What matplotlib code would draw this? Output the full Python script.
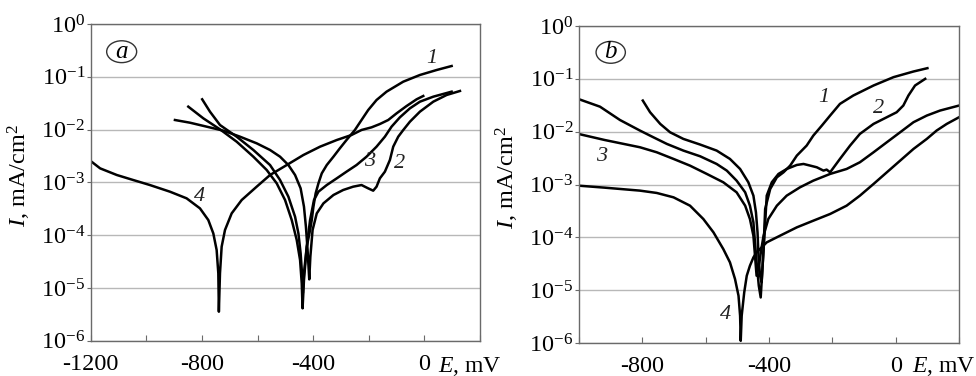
import numpy as np
import matplotlib
matplotlib.use('Agg')
import matplotlib.pyplot as plt
from matplotlib.patches import Ellipse
from matplotlib.ticker import NullLocator

plt.rcParams['font.family'] = ['Liberation Serif', 'DejaVu Serif']
plt.rcParams['mathtext.fontset'] = 'custom'
plt.rcParams['mathtext.rm'] = 'Liberation Serif'
plt.rcParams['mathtext.it'] = 'Liberation Serif:italic'
plt.rcParams['axes.unicode_minus'] = False

# ---- panel a : potential E (mV) and log10 of current density I (mA/cm2) ----
a1_E = [-799, -771, -735, -675, -615, -555, -519, -489, -465, -453, -445, -440, -437, -433, -423,
        -411, -405, -399, -391, -381, -369, -351, -327, -304, -280, -250, -226, -202, -172, -136,
        -76, -16, 44, 98]
a1_logI = [-1.427, -1.661, -1.914, -2.135, -2.387, -2.672, -2.956, -3.272, -3.651, -3.967, -4.345,
           -4.724, -5.10, -4.72, -4.219, -3.903, -3.714, -3.461, -3.209, -3.019, -2.83, -2.672,
           -2.514, -2.356, -2.198, -2.009, -1.819, -1.63, -1.44, -1.282, -1.093, -0.966, -0.872,
           -0.796]

a2_E = [-897, -843, -783, -723, -663, -603, -555, -519, -489, -465, -445, -433, -426, -420, -414,
        -410, -402, -387, -363, -327, -292, -256, -226, -202, -184, -172, -160, -142, -124, -112,
        -94, -76, -52, -16, 32, 80, 128]
a2_logI = [-1.819, -1.87, -1.945, -2.021, -2.135, -2.261, -2.387, -2.514, -2.672, -2.861, -3.114,
           -3.461, -3.84, -4.282, -4.838, -4.408, -3.903, -3.588, -3.398, -3.24, -3.145, -3.082,
           -3.051, -3.114, -3.158, -3.082, -2.924, -2.798, -2.577, -2.324, -2.135, -2.009, -1.851,
           -1.661, -1.472, -1.345, -1.269]

a3_E = [-849, -795, -735, -675, -615, -567, -531, -501, -477, -459, -447, -441, -438, -433, -423,
        -411, -397, -381, -351, -315, -280, -244, -208, -172, -142, -118, -88, -52, -16, 32, 98]
a3_logI = [-1.566, -1.787, -1.996, -2.23, -2.514, -2.766, -3.019, -3.335, -3.714, -4.093, -4.472,
           -4.914, -5.387, -4.851, -4.219, -3.714, -3.335, -3.177, -3.051, -2.924, -2.798, -2.672,
           -2.514, -2.324, -2.135, -1.945, -1.768, -1.598, -1.472, -1.377, -1.282]

a4_E = [-1200, -1166, -1106, -1047, -987, -915, -855, -807, -777, -759, -747, -741, -739, -735,
        -729, -717, -693, -657, -603, -555, -495, -435, -375, -315, -262, -226, -190, -160, -130,
        -100, -64, -28, -4]
a4_logI = [-2.596, -2.735, -2.861, -2.956, -3.051, -3.177, -3.303, -3.493, -3.714, -3.967, -4.282,
           -4.724, -5.451, -4.724, -4.219, -3.903, -3.588, -3.335, -3.082, -2.861, -2.672, -2.482,
           -2.324, -2.198, -2.103, -2.008, -1.958, -1.895, -1.819, -1.693, -1.554, -1.427, -1.364]

# ---- panel b ----
b1_E = [-798, -775, -743, -712, -670, -617, -565, -523, -491, -465, -449, -441, -436, -433, -428,
        -423, -417, -412, -396, -375, -354, -333, -312, -281, -260, -233, -207, -176, -134, -70,
        -7, 56, 100]
b1_logI = [-1.411, -1.632, -1.853, -2.011, -2.137, -2.244, -2.358, -2.516, -2.706, -2.958, -3.211,
           -3.527, -3.906, -4.348, -4.727, -4.85, -4.22, -3.464, -3.085, -2.864, -2.769, -2.642,
           -2.453, -2.263, -2.074, -1.884, -1.695, -1.474, -1.316, -1.126, -0.968, -0.861, -0.798]

b2_E = [-1001, -933, -870, -807, -765, -722, -670, -617, -565, -533, -502, -475, -460, -449, -444,
        -438, -432, -426, -420, -413, -407, -391, -370, -344, -312, -291, -270, -249, -228, -218,
        -207, -176, -144, -113, -70, -28, 3, 24, 40, 61, 93]
b2_logI = [-1.382, -1.527, -1.779, -1.979, -2.105, -2.232, -2.358, -2.466, -2.611, -2.737, -2.927,
           -3.148, -3.401, -3.716, -4.095, -4.538, -4.917, -5.138, -4.538, -3.843, -3.211, -2.958,
           -2.8, -2.706, -2.63, -2.611, -2.642, -2.674, -2.737, -2.718, -2.769, -2.516, -2.263,
           -2.042, -1.853, -1.726, -1.632, -1.505, -1.316, -1.126, -1.0]

b3_E = [-1000, -918, -807, -754, -701, -649, -596, -544, -502, -475, -460, -449, -444, -439, -430,
        -424, -417, -402, -375, -344, -302, -260, -207, -155, -113, -70, -28, 14, 56, 98, 140, 200]
b3_logI = [-2.044, -2.158, -2.295, -2.39, -2.516, -2.643, -2.8, -2.958, -3.148, -3.401, -3.653,
           -3.969, -4.348, -4.727, -4.474, -4.222, -3.969, -3.653, -3.401, -3.211, -3.053, -2.927,
           -2.8, -2.706, -2.579, -2.39, -2.2, -2.011, -1.821, -1.695, -1.6, -1.505]

b4_E = [-1000, -918, -807, -754, -701, -649, -607, -575, -544, -523, -507, -496, -491, -489, -486,
        -478, -470, -460, -449, -439, -407, -365, -312, -260, -207, -155, -113, -70, -28, 14, 56,
        98, 129, 161, 200]
b4_logI = [-3.022, -3.06, -3.116, -3.16, -3.243, -3.401, -3.653, -3.906, -4.222, -4.474, -4.79,
           -5.106, -5.485, -5.959, -5.485, -5.043, -4.727, -4.538, -4.38, -4.285, -4.095, -3.969,
           -3.811, -3.685, -3.558, -3.401, -3.211, -2.99, -2.769, -2.548, -2.327, -2.137, -1.979,
           -1.853, -1.726]

# curve number labels: (text, E, I)
a_labels = [('1', 26, 0.224), ('2', -88, 2.3e-3), ('3', -196, 2.45e-3), ('4', -807, 5.4e-4)]
b_labels = [('1', -228, 0.045), ('2', -55, 0.028), ('3', -929, 3.4e-3), ('4', -538, 3.5e-6)]

a_xticks = [-1200, -1000, -800, -600, -400, -200, 0, 200]
a_xticklabels = ['-1200', '', '-800', '', '-400', '', '0', '']
b_xticks = [-1000, -800, -600, -400, -200, 0, 200]
b_xticklabels = ['', '-800', '', '-400', '', '0', '']

fig = plt.figure(figsize=(9.76, 3.76), dpi=100)
ax_a = fig.add_axes([0.0929, 0.0939, 0.3989, 0.8423])
ax_b = fig.add_axes([0.593, 0.0878, 0.3897, 0.843])

frame = '#6a6a6a'
fs = 17.5


def setup(ax, xlim, xticks, xticklabels, tag, tagpos, ylab_x, elab_pos):
    ax.set_yscale('log')
    ax.set_ylim(1e-6, 1)
    ax.set_xlim(*xlim)
    ax.set_yticks([10.0 ** k for k in range(-6, 1)])
    ax.yaxis.set_minor_locator(NullLocator())
    ax.set_xticks(xticks)
    ax.set_xticklabels(xticklabels)
    ax.grid(axis='y', color='#b8b8b8', lw=1)
    ax.set_axisbelow(True)
    for s in ax.spines.values():
        s.set_color(frame)
        s.set_linewidth(1)
    ax.tick_params(axis='y', direction='out', length=3, color=frame, labelsize=fs, pad=1)
    ax.tick_params(axis='x', direction='in', length=4, color=frame, labelsize=fs, pad=9.5)
    ax.set_ylabel(r'$\mathit{I}$, mA/cm$^2$', fontsize=fs)
    ax.yaxis.set_label_coords(ylab_x, 0.522)
    ax.text(elab_pos[0], elab_pos[1], r'$\mathit{E}$, mV', transform=ax.transAxes,
            fontsize=17, ha='left', va='center')
    ax.add_patch(Ellipse(tagpos, 0.077, 0.069, transform=ax.transAxes, fill=False,
                         ec='#333333', lw=1))
    ax.text(tagpos[0], tagpos[1], tag, transform=ax.transAxes, fontsize=18,
            style='italic', ha='center', va='center')


setup(ax_a, (-1200, 200), a_xticks, a_xticklabels, 'a', (0.0796, 0.9125), -0.148, (0.893, -0.08))
setup(ax_b, (-1000, 200), b_xticks, b_xticklabels, 'b', (0.084, 0.917), -0.152, (0.876, -0.073))

for E, L in [(a1_E, a1_logI), (a2_E, a2_logI), (a3_E, a3_logI), (a4_E, a4_logI)]:
    ax_a.plot(E, 10 ** np.array(L), color='black', lw=1.8, solid_joinstyle='round')
for E, L in [(b1_E, b1_logI), (b2_E, b2_logI), (b3_E, b3_logI), (b4_E, b4_logI)]:
    ax_b.plot(E, 10 ** np.array(L), color='black', lw=1.8, solid_joinstyle='round')

for ax, labs in [(ax_a, a_labels), (ax_b, b_labels)]:
    for t, x, y in labs:
        ax.text(x, y, t, fontsize=16, style='italic', color='#222222', ha='center', va='center')

fig.savefig('out.png', dpi=100)
